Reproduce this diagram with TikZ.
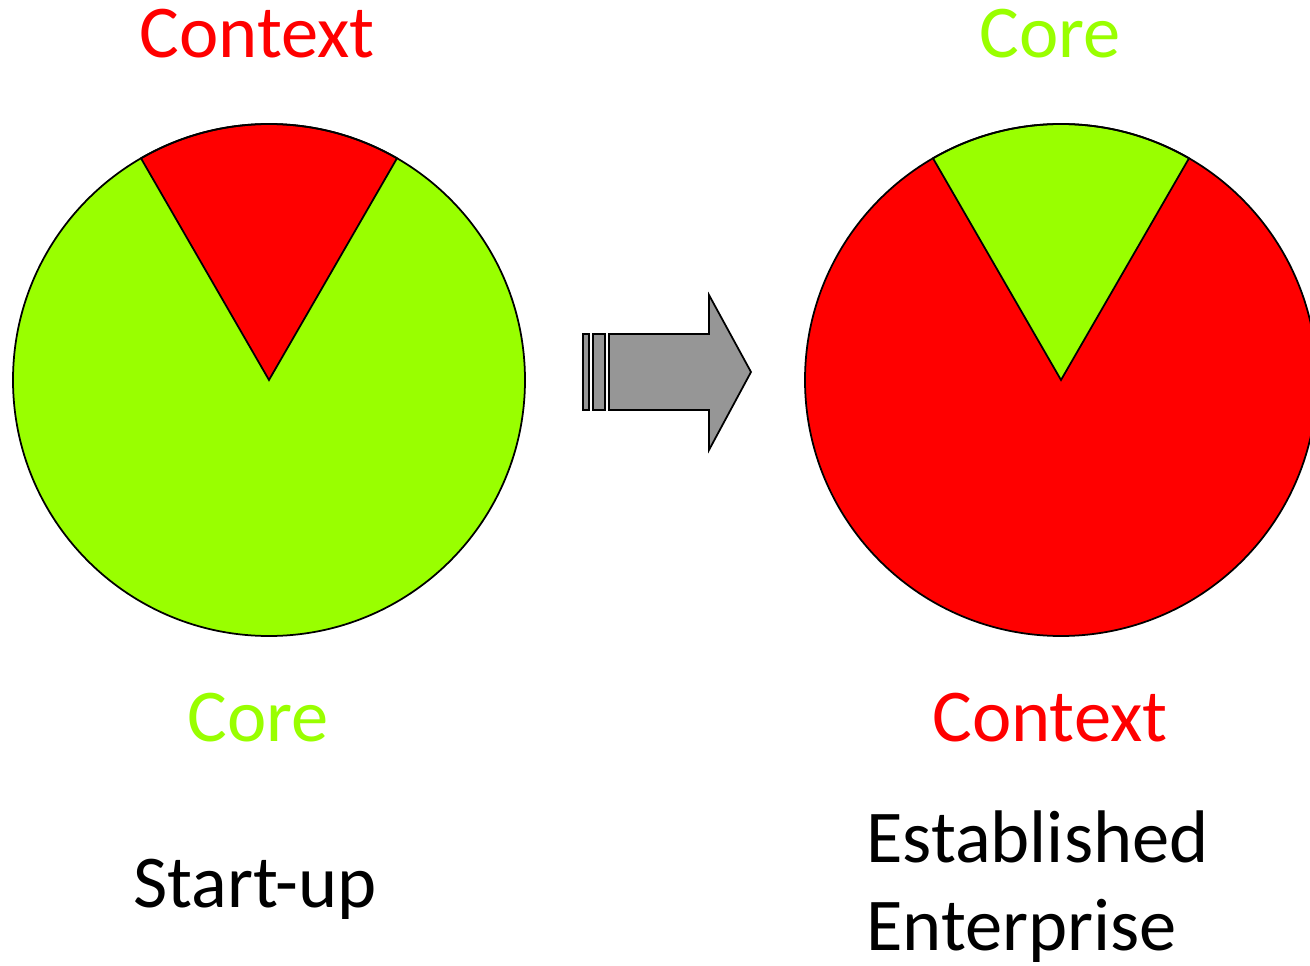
\documentclass[tikz,border=0pt]{standalone}
\usepackage{fontspec}
\setmainfont{Carlito}
\usetikzlibrary{positioning,calc}

\definecolor{coregreen}{RGB}{153,255,0}
\definecolor{contextred}{RGB}{255,0,0}
\definecolor{arrowgray}{RGB}{150,150,150}

\begin{document}
\begin{tikzpicture}[pie/.style={draw=black, line width=1pt},
    label text/.style={inner sep=0pt, anchor=base, font=\fontsize{42.4}{50}\selectfont},
    shiftbar/.style={draw=black, line width=1pt, fill=arrowgray}]

        \useasboundingbox (0,0) rectangle (26.2,19.3);
        \clip (0,0) rectangle (26.2,19.3);

        % Start-up pie
        \coordinate (Startup) at (5.38,11.70);
        \fill [coregreen] (Startup) circle (5.12);
        \filldraw [pie, fill=contextred] (Startup) -- ++(60:5.12) arc (60:120:5.12) -- cycle;
        \draw [pie] (Startup) circle (5.12);

        % Established pie
        \coordinate (Established) at (21.22,11.70);
        \fill [contextred] (Established) circle (5.12);
        \filldraw [pie, fill=coregreen] (Established) -- ++(60:5.12) arc (60:120:5.12) -- cycle;
        \draw [pie] (Established) circle (5.12);

        % Labels
        \node [label text, text=contextred] (startup_context) at (5.15,18.14) {Context};
        \node [label text, text=coregreen] (startup_core) at (5.17,4.46) {Core};
        \node [label text, text=coregreen] (established_core) at (21.01,18.14) {Core};
        \node [label text, text=contextred] (established_context) at (21.0,4.46) {Context};

        \node [label text] (startup_name) at (5.10,1.16) {Start-up};
        \node [label text, anchor=base west] (established_name) at (17.32,2.06) {Established};
        \node [label text, anchor=base west] (enterprise_name) at ($(established_name.base west)+(0,-1.76)$) {Enterprise};

        % Arrow
        \draw [shiftbar] (11.66,11.10) rectangle (11.78,12.62);
        \draw [shiftbar] (11.86,11.10) rectangle (12.10,12.62);
        \draw [shiftbar] (12.18,11.10) -- (14.18,11.10) -- (14.18,10.30) -- (15.02,11.86)
            -- (14.18,13.40) -- (14.18,12.62) -- (12.18,12.62) -- cycle;

    \end{tikzpicture}
\end{document}
